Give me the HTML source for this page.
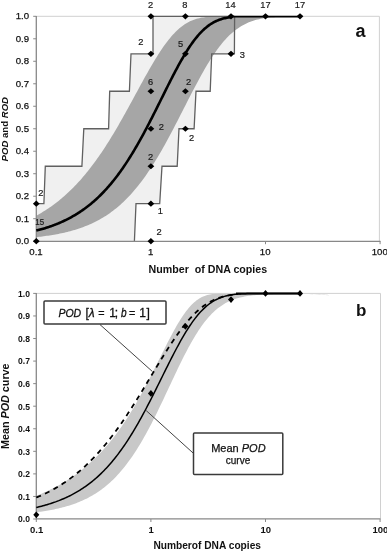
<!DOCTYPE html>
<html><head><meta charset="utf-8"><style>
html,body{margin:0;padding:0;background:#fff;width:387px;height:553px;overflow:hidden}
svg{display:block;filter:grayscale(1)}
text{font-family:"Liberation Sans",sans-serif}
</style></head><body>
<svg width="387" height="553" viewBox="0 0 387 553">
<rect width="387" height="553" fill="#fff"/>
<!-- plot a -->
<polygon points="36.30,241.20 36.30,203.72 43.90,203.72 45.30,166.23 81.90,166.23 83.80,128.75 108.60,128.75 109.70,91.27 129.40,91.27 131.00,53.78 153.00,53.78 153.00,16.30 234.60,16.30 234.40,53.78 211.70,53.78 210.20,91.27 196.00,91.27 194.10,128.75 179.00,128.75 177.20,166.23 162.00,166.23 159.70,203.72 136.00,203.72 134.40,241.20" fill="#f0f0f0"/>
<polygon points="36.30,215.68 37.63,214.95 38.95,214.21 40.28,213.45 41.60,212.67 42.93,211.87 44.25,211.05 45.58,210.21 46.90,209.35 48.23,208.47 49.55,207.57 50.88,206.65 52.20,205.71 53.53,204.75 54.85,203.76 56.18,202.76 57.50,201.73 58.83,200.67 60.15,199.60 61.48,198.50 62.80,197.37 64.13,196.22 65.45,195.05 66.78,193.85 68.10,192.62 69.43,191.37 70.75,190.09 72.08,188.79 73.40,187.46 74.73,186.10 76.05,184.71 77.38,183.30 78.70,181.86 80.03,180.39 81.35,178.89 82.68,177.36 84.00,175.81 85.33,174.22 86.65,172.61 87.98,170.96 89.31,169.29 90.63,167.58 91.96,165.85 93.28,164.09 94.61,162.29 95.93,160.47 97.26,158.62 98.58,156.74 99.91,154.82 101.23,152.88 102.56,150.91 103.88,148.91 105.21,146.89 106.53,144.83 107.86,142.75 109.18,140.64 110.51,138.50 111.83,136.34 113.16,134.15 114.48,131.94 115.81,129.70 117.13,127.44 118.46,125.16 119.78,122.86 121.11,120.54 122.43,118.20 123.76,115.84 125.08,113.47 126.41,111.08 127.73,108.68 129.06,106.26 130.38,103.84 131.71,101.41 133.03,98.98 134.36,96.54 135.68,94.09 137.01,91.65 138.33,89.21 139.66,86.77 140.98,84.35 142.31,81.93 143.64,79.52 144.96,77.12 146.29,74.75 147.61,72.39 148.94,70.06 150.26,67.75 151.59,65.46 152.91,63.21 154.24,60.99 155.56,58.81 156.89,56.67 158.21,54.56 159.54,52.50 160.86,50.49 162.19,48.53 163.51,46.62 164.84,44.76 166.16,42.95 167.49,41.21 168.81,39.52 170.14,37.90 171.46,36.33 172.79,34.84 174.11,33.40 175.44,32.04 176.76,30.73 178.09,29.50 179.41,28.33 180.74,27.23 182.06,26.20 183.39,25.23 184.71,24.32 186.04,23.48 187.36,22.70 188.69,21.99 190.01,21.33 191.34,20.72 192.66,20.17 193.99,19.67 195.32,19.22 196.64,18.82 197.97,18.46 199.29,18.14 200.62,17.86 201.94,17.61 203.27,17.40 204.59,17.21 205.92,17.05 207.24,16.91 208.57,16.80 209.89,16.70 211.22,16.62 212.54,16.55 213.87,16.50 215.19,16.45 216.52,16.42 217.84,16.39 219.17,16.37 220.49,16.35 221.82,16.34 223.14,16.33 224.47,16.32 225.79,16.31 227.12,16.31 228.44,16.31 229.77,16.30 231.09,16.30 232.42,16.30 233.74,16.30 235.07,16.30 236.39,16.30 237.72,16.30 239.04,16.30 240.37,16.30 241.69,16.30 243.02,16.30 244.34,16.30 245.67,16.30 246.99,16.30 248.32,16.30 249.65,16.30 250.97,16.30 252.30,16.30 253.62,16.30 254.95,16.30 256.27,16.30 257.60,16.30 258.92,16.30 260.25,16.30 261.57,16.30 262.90,16.30 264.22,16.30 265.55,16.30 266.87,16.30 268.20,16.30 269.52,16.30 270.85,16.30 272.17,16.30 273.50,16.30 274.82,16.30 276.15,16.30 277.47,16.30 278.80,16.30 280.12,16.30 281.45,16.30 282.77,16.30 284.10,16.30 285.42,16.30 286.75,16.30 288.07,16.30 289.40,16.30 290.72,16.30 292.05,16.30 293.37,16.30 294.70,16.30 296.02,16.30 297.35,16.30 298.67,16.30 300.00,16.30 330.00,16.30 328.52,16.30 327.05,16.30 325.57,16.30 324.10,16.30 322.62,16.31 321.14,16.31 319.67,16.31 318.19,16.31 316.72,16.31 315.24,16.31 313.77,16.31 312.29,16.32 310.81,16.32 309.34,16.32 307.86,16.33 306.39,16.33 304.91,16.34 303.43,16.34 301.96,16.35 300.48,16.36 299.01,16.37 297.53,16.38 296.05,16.39 294.58,16.41 293.10,16.43 291.63,16.45 290.15,16.47 288.68,16.50 287.20,16.53 285.72,16.57 284.25,16.61 282.77,16.66 281.30,16.71 279.82,16.78 278.34,16.85 276.87,16.93 275.39,17.02 273.92,17.13 272.44,17.24 270.96,17.37 269.49,17.52 268.01,17.69 266.54,17.87 265.06,18.08 263.59,18.31 262.11,18.56 260.63,18.84 259.16,19.15 257.68,19.49 256.21,19.87 254.73,20.28 253.25,20.73 251.78,21.22 250.30,21.76 248.83,22.34 247.35,22.96 245.87,23.64 244.40,24.38 242.92,25.17 241.45,26.01 239.97,26.92 238.50,27.89 237.02,28.92 235.54,30.02 234.07,31.19 232.59,32.43 231.12,33.73 229.64,35.11 228.16,36.56 226.69,38.08 225.21,39.68 223.74,41.35 222.26,43.09 220.78,44.91 219.31,46.80 217.83,48.76 216.36,50.78 214.88,52.88 213.41,55.05 211.93,57.28 210.45,59.57 208.98,61.93 207.50,64.34 206.03,66.81 204.55,69.34 203.07,71.91 201.60,74.53 200.12,77.19 198.65,79.89 197.17,82.63 195.69,85.40 194.22,88.20 192.74,91.03 191.27,93.87 189.79,96.74 188.32,99.62 186.84,102.51 185.36,105.41 183.89,108.31 182.41,111.21 180.94,114.11 179.46,117.00 177.98,119.89 176.51,122.76 175.03,125.61 173.56,128.44 172.08,131.25 170.61,134.04 169.13,136.80 167.65,139.54 166.18,142.24 164.70,144.91 163.23,147.54 161.75,150.13 160.27,152.69 158.80,155.21 157.32,157.68 155.85,160.12 154.37,162.51 152.89,164.85 151.42,167.15 149.94,169.40 148.47,171.61 146.99,173.77 145.52,175.88 144.04,177.95 142.56,179.96 141.09,181.93 139.61,183.85 138.14,185.73 136.66,187.55 135.18,189.33 133.71,191.07 132.23,192.75 130.76,194.39 129.28,195.99 127.80,197.54 126.33,199.04 124.85,200.50 123.38,201.92 121.90,203.30 120.43,204.64 118.95,205.93 117.47,207.19 116.00,208.40 114.52,209.58 113.05,210.72 111.57,211.82 110.09,212.89 108.62,213.92 107.14,214.92 105.67,215.88 104.19,216.82 102.71,217.72 101.24,218.59 99.76,219.43 98.29,220.24 96.81,221.03 95.34,221.78 93.86,222.51 92.38,223.21 90.91,223.89 89.43,224.55 87.96,225.18 86.48,225.79 85.00,226.37 83.53,226.94 82.05,227.48 80.58,228.01 79.10,228.51 77.62,229.00 76.15,229.46 74.67,229.92 73.20,230.35 71.72,230.77 70.25,231.17 68.77,231.55 67.29,231.93 65.82,232.28 64.34,232.63 62.87,232.96 61.39,233.28 59.91,233.58 58.44,233.88 56.96,234.16 55.49,234.43 54.01,234.69 52.53,234.95 51.06,235.19 49.58,235.42 48.11,235.64 46.63,235.86 45.16,236.06 43.68,236.26 42.20,236.45 40.73,236.64 39.25,236.81 37.78,236.98 36.30,237.14" fill="#a6a6a6"/>
<polyline points="36.3,16.3 379.4,16.3 379.4,241.2" fill="none" stroke="#d0d0d0" stroke-width="1"/>
<polyline points="36.30,203.72 43.90,203.72 45.30,166.23 81.90,166.23 83.80,128.75 108.60,128.75 109.70,91.27 129.40,91.27 131.00,53.78 153.00,53.78 153.00,16.30" fill="none" stroke="#606060" stroke-width="1.3"/>
<polyline points="234.60,16.30 234.40,53.78 211.70,53.78 210.20,91.27 196.00,91.27 194.10,128.75 179.00,128.75 177.20,166.23 162.00,166.23 159.70,203.72 136.00,203.72 134.40,241.20" fill="none" stroke="#606060" stroke-width="1.3"/>
<line x1="153.0" y1="16.3" x2="234.6" y2="16.3" stroke="#606060" stroke-width="1.3"/>
<g stroke="#888" stroke-width="1"><line x1="33.2" x2="36.3" y1="241.20" y2="241.20"/><line x1="33.2" x2="36.3" y1="218.71" y2="218.71"/><line x1="33.2" x2="36.3" y1="196.22" y2="196.22"/><line x1="33.2" x2="36.3" y1="173.73" y2="173.73"/><line x1="33.2" x2="36.3" y1="151.24" y2="151.24"/><line x1="33.2" x2="36.3" y1="128.75" y2="128.75"/><line x1="33.2" x2="36.3" y1="106.26" y2="106.26"/><line x1="33.2" x2="36.3" y1="83.77" y2="83.77"/><line x1="33.2" x2="36.3" y1="61.28" y2="61.28"/><line x1="33.2" x2="36.3" y1="38.79" y2="38.79"/><line x1="33.2" x2="36.3" y1="16.30" y2="16.30"/><line x1="36.30" x2="36.30" y1="241.2" y2="244.2"/><line x1="150.90" x2="150.90" y1="241.2" y2="244.2"/><line x1="265.50" x2="265.50" y1="241.2" y2="244.2"/><line x1="380.10" x2="380.10" y1="241.2" y2="244.2"/></g>
<line x1="36.3" y1="16" x2="36.3" y2="241.7" stroke="#888" stroke-width="1.3"/>
<line x1="36" y1="241.4" x2="380.5" y2="241.4" stroke="#888" stroke-width="1.3"/>
<polyline points="36.30,230.61 37.28,230.36 38.26,230.10 39.24,229.84 40.21,229.57 41.19,229.30 42.17,229.02 43.15,228.73 44.13,228.44 45.11,228.14 46.08,227.83 47.06,227.52 48.04,227.20 49.02,226.88 50.00,226.54 50.98,226.20 51.95,225.85 52.93,225.49 53.91,225.13 54.89,224.76 55.87,224.38 56.85,223.99 57.82,223.59 58.80,223.18 59.78,222.77 60.76,222.34 61.74,221.91 62.72,221.47 63.69,221.01 64.67,220.55 65.65,220.08 66.63,219.60 67.61,219.11 68.59,218.60 69.57,218.09 70.54,217.56 71.52,217.03 72.50,216.48 73.48,215.92 74.46,215.35 75.44,214.77 76.41,214.17 77.39,213.57 78.37,212.95 79.35,212.32 80.33,211.67 81.31,211.01 82.28,210.34 83.26,209.66 84.24,208.96 85.22,208.24 86.20,207.52 87.18,206.77 88.15,206.02 89.13,205.25 90.11,204.46 91.09,203.66 92.07,202.84 93.05,202.00 94.03,201.15 95.00,200.29 95.98,199.41 96.96,198.51 97.94,197.59 98.92,196.66 99.90,195.71 100.87,194.74 101.85,193.75 102.83,192.75 103.81,191.73 104.79,190.69 105.77,189.63 106.74,188.55 107.72,187.45 108.70,186.34 109.68,185.20 110.66,184.05 111.64,182.88 112.61,181.68 113.59,180.47 114.57,179.24 115.55,177.99 116.53,176.71 117.51,175.42 118.48,174.11 119.46,172.77 120.44,171.42 121.42,170.05 122.40,168.65 123.38,167.24 124.36,165.80 125.33,164.35 126.31,162.87 127.29,161.37 128.27,159.86 129.25,158.32 130.23,156.77 131.20,155.19 132.18,153.59 133.16,151.98 134.14,150.34 135.12,148.69 136.10,147.02 137.07,145.33 138.05,143.62 139.03,141.89 140.01,140.15 140.99,138.39 141.97,136.61 142.94,134.82 143.92,133.01 144.90,131.18 145.88,129.35 146.86,127.49 147.84,125.63 148.82,123.75 149.79,121.86 150.77,119.95 151.75,118.04 152.73,116.12 153.71,114.19 154.69,112.25 155.66,110.30 156.64,108.34 157.62,106.39 158.60,104.42 159.58,102.46 160.56,100.49 161.53,98.52 162.51,96.55 163.49,94.58 164.47,92.61 165.45,90.64 166.43,88.68 167.40,86.73 168.38,84.78 169.36,82.85 170.34,80.92 171.32,79.00 172.30,77.09 173.27,75.20 174.25,73.32 175.23,71.46 176.21,69.61 177.19,67.79 178.17,65.98 179.15,64.20 180.12,62.44 181.10,60.70 182.08,58.99 183.06,57.30 184.04,55.64 185.02,54.01 185.99,52.41 186.97,50.84 187.95,49.30 188.93,47.80 189.91,46.33 190.89,44.89 191.86,43.50 192.84,42.13 193.82,40.81 194.80,39.52 195.78,38.27 196.76,37.06 197.73,35.89 198.71,34.75 199.69,33.66 200.67,32.61 201.65,31.60 202.63,30.62 203.61,29.69 204.58,28.80 205.56,27.94 206.54,27.13 207.52,26.35 208.50,25.62 209.48,24.92 210.45,24.26 211.43,23.63 212.41,23.04 213.39,22.48 214.37,21.96 215.35,21.47 216.32,21.01 217.30,20.58 218.28,20.19 219.26,19.82 220.24,19.47 221.22,19.16 222.19,18.87 223.17,18.60 224.15,18.35 225.13,18.13 226.11,17.92 227.09,17.74 228.06,17.57 229.04,17.42 230.02,17.28 231.00,17.15" fill="none" stroke="#000" stroke-width="2.6"/>
<line x1="229" y1="16.6" x2="300.5" y2="16.6" stroke="#000" stroke-width="1.7"/>
<g fill="#000"><path d="M36.30 238.10L39.70 241.20L36.30 244.30L32.90 241.20Z"/><path d="M36.30 200.62L39.70 203.72L36.30 206.82L32.90 203.72Z"/><path d="M150.90 238.10L154.30 241.20L150.90 244.30L147.50 241.20Z"/><path d="M150.90 200.62L154.30 203.72L150.90 206.82L147.50 203.72Z"/><path d="M150.90 163.13L154.30 166.23L150.90 169.33L147.50 166.23Z"/><path d="M150.90 125.65L154.30 128.75L150.90 131.85L147.50 128.75Z"/><path d="M150.90 88.17L154.30 91.27L150.90 94.37L147.50 91.27Z"/><path d="M150.90 50.68L154.30 53.78L150.90 56.88L147.50 53.78Z"/><path d="M150.90 13.20L154.30 16.30L150.90 19.40L147.50 16.30Z"/><path d="M185.40 125.65L188.80 128.75L185.40 131.85L182.00 128.75Z"/><path d="M185.40 88.17L188.80 91.27L185.40 94.37L182.00 91.27Z"/><path d="M185.40 50.68L188.80 53.78L185.40 56.88L182.00 53.78Z"/><path d="M185.40 13.20L188.80 16.30L185.40 19.40L182.00 16.30Z"/><path d="M231.00 50.68L234.40 53.78L231.00 56.88L227.60 53.78Z"/><path d="M231.00 13.20L234.40 16.30L231.00 19.40L227.60 16.30Z"/><path d="M265.50 13.20L268.90 16.30L265.50 19.40L262.10 16.30Z"/><path d="M300.00 13.20L303.40 16.30L300.00 19.40L296.60 16.30Z"/></g>
<g font-size="9.3" fill="#1a1a1a" stroke="#1a1a1a" stroke-width="0.2"><text x="35.3" y="225.0" text-anchor="start" textLength="8.8" lengthAdjust="spacingAndGlyphs">15</text><text x="38.2" y="196.3" text-anchor="start">2</text><text x="156.4" y="235.0" text-anchor="start">2</text><text x="157.8" y="214.3" text-anchor="start">1</text><text x="150.5" y="160.0" text-anchor="middle">2</text><text x="158.8" y="130.3" text-anchor="start">2</text><text x="150.7" y="84.8" text-anchor="middle">6</text><text x="140.8" y="45.4" text-anchor="middle">2</text><text x="150.6" y="8.1" text-anchor="middle">2</text><text x="184.8" y="8.1" text-anchor="middle">8</text><text x="180.6" y="47.2" text-anchor="middle">5</text><text x="188.7" y="84.7" text-anchor="middle">2</text><text x="191.7" y="140.7" text-anchor="middle">2</text><text x="242.4" y="58.0" text-anchor="middle">3</text><text x="230.5" y="8.1" text-anchor="middle">14</text><text x="265.4" y="8.1" text-anchor="middle">17</text><text x="300" y="8.1" text-anchor="middle">17</text></g><g font-size="9.6" fill="#111" stroke="#111" stroke-width="0.25"><text x="29.0" y="244.10" text-anchor="end">0.0</text><text x="29.0" y="221.61" text-anchor="end">0.1</text><text x="29.0" y="199.12" text-anchor="end">0.2</text><text x="29.0" y="176.63" text-anchor="end">0.3</text><text x="29.0" y="154.14" text-anchor="end">0.4</text><text x="29.0" y="131.65" text-anchor="end">0.5</text><text x="29.0" y="109.16" text-anchor="end">0.6</text><text x="29.0" y="86.67" text-anchor="end">0.7</text><text x="29.0" y="64.18" text-anchor="end">0.8</text><text x="29.0" y="41.69" text-anchor="end">0.9</text><text x="29.0" y="19.20" text-anchor="end">1.0</text><text x="36.00" y="255.0" text-anchor="middle">0.1</text><text x="150.60" y="255.0" text-anchor="middle">1</text><text x="265.20" y="255.0" text-anchor="middle">10</text><text x="379.80" y="255.0" text-anchor="middle">100</text></g>
<text x="148.6" y="272.6" font-size="11" font-weight="bold" fill="#111" textLength="118.6" lengthAdjust="spacingAndGlyphs">Number &#160;of DNA copies</text>
<text transform="translate(8.3,129.2) rotate(-90)" text-anchor="middle" font-size="9.6" font-weight="bold" fill="#111" textLength="64.5" lengthAdjust="spacingAndGlyphs"><tspan font-style="italic">POD</tspan> and <tspan font-style="italic">ROD</tspan></text>
<text x="355.5" y="36.7" font-size="18" font-weight="bold" fill="#111">a</text>

<!-- plot b -->
<polygon points="36.30,495.87 37.63,495.33 38.95,494.78 40.28,494.22 41.60,493.65 42.93,493.07 44.25,492.48 45.58,491.88 46.90,491.26 48.23,490.64 49.55,490.00 50.88,489.35 52.20,488.68 53.53,488.00 54.85,487.31 56.18,486.61 57.50,485.89 58.83,485.16 60.15,484.41 61.48,483.65 62.80,482.87 64.13,482.08 65.45,481.27 66.78,480.44 68.10,479.60 69.43,478.74 70.75,477.86 72.08,476.97 73.40,476.06 74.73,475.13 76.05,474.18 77.38,473.21 78.70,472.22 80.03,471.21 81.35,470.18 82.68,469.13 84.00,468.06 85.33,466.96 86.65,465.84 87.98,464.70 89.31,463.54 90.63,462.35 91.96,461.14 93.28,459.90 94.61,458.63 95.93,457.34 97.26,456.03 98.58,454.68 99.91,453.31 101.23,451.91 102.56,450.48 103.88,449.02 105.21,447.53 106.53,446.01 107.86,444.47 109.18,442.88 110.51,441.27 111.83,439.63 113.16,437.95 114.48,436.24 115.81,434.50 117.13,432.72 118.46,430.90 119.78,429.06 121.11,427.18 122.43,425.26 123.76,423.31 125.08,421.32 126.41,419.29 127.73,417.23 129.06,415.14 130.38,413.01 131.71,410.84 133.03,408.64 134.36,406.40 135.68,404.13 137.01,401.83 138.33,399.49 139.66,397.12 140.98,394.72 142.31,392.29 143.64,389.83 144.96,387.34 146.29,384.82 147.61,382.28 148.94,379.71 150.26,377.13 151.59,374.52 152.91,371.90 154.24,369.26 155.56,366.61 156.89,363.95 158.21,361.29 159.54,358.63 160.86,355.96 162.19,353.30 163.51,350.65 164.84,348.01 166.16,345.39 167.49,342.79 168.81,340.22 170.14,337.68 171.46,335.18 172.79,332.71 174.11,330.29 175.44,327.92 176.76,325.61 178.09,323.36 179.41,321.17 180.74,319.05 182.06,317.01 183.39,315.05 184.71,313.17 186.04,311.37 187.36,309.66 188.69,308.05 190.01,306.53 191.34,305.10 192.66,303.77 193.99,302.54 195.32,301.40 196.64,300.36 197.97,299.41 199.29,298.55 200.62,297.78 201.94,297.09 203.27,296.49 204.59,295.96 205.92,295.49 207.24,295.10 208.57,294.76 209.89,294.48 211.22,294.25 212.54,294.05 213.87,293.90 215.19,293.77 216.52,293.67 217.84,293.60 219.17,293.54 220.49,293.50 221.82,293.47 223.14,293.45 224.47,293.43 225.79,293.42 227.12,293.41 228.44,293.41 229.77,293.40 231.09,293.40 232.42,293.40 233.74,293.40 235.07,293.40 236.39,293.40 237.72,293.40 239.04,293.40 240.37,293.40 241.69,293.40 243.02,293.40 244.34,293.40 245.67,293.40 246.99,293.40 248.32,293.40 249.65,293.40 250.97,293.40 252.30,293.40 253.62,293.40 254.95,293.40 256.27,293.40 257.60,293.40 258.92,293.40 260.25,293.40 261.57,293.40 262.90,293.40 264.22,293.40 265.55,293.40 266.87,293.40 268.20,293.40 269.52,293.40 270.85,293.40 272.17,293.40 273.50,293.40 274.82,293.40 276.15,293.40 277.47,293.40 278.80,293.40 280.12,293.40 281.45,293.40 282.77,293.40 284.10,293.40 285.42,293.40 286.75,293.40 288.07,293.40 289.40,293.40 290.72,293.40 292.05,293.40 293.37,293.40 294.70,293.40 296.02,293.40 297.35,293.40 298.67,293.40 300.00,293.40 330.00,295.15 328.52,294.99 327.05,294.85 325.57,294.72 324.10,294.61 322.62,294.52 321.14,294.43 319.67,294.35 318.19,294.29 316.72,294.23 315.24,294.17 313.77,294.13 312.29,294.09 310.81,294.05 309.34,294.02 307.86,293.99 306.39,293.97 304.91,293.95 303.43,293.93 301.96,293.92 300.48,293.90 299.01,293.89 297.53,293.89 296.05,293.88 294.58,293.88 293.10,293.88 291.63,293.88 290.15,293.89 288.68,293.89 287.20,293.90 285.72,293.91 284.25,293.93 282.77,293.94 281.30,293.96 279.82,293.98 278.34,294.01 276.87,294.03 275.39,294.07 273.92,294.10 272.44,294.14 270.96,294.19 269.49,294.23 268.01,294.29 266.54,294.35 265.06,294.42 263.59,294.49 262.11,294.58 260.63,294.67 259.16,294.77 257.68,294.88 256.21,295.01 254.73,295.15 253.25,295.30 251.78,295.46 250.30,295.65 248.83,295.85 247.35,296.07 245.87,296.32 244.40,296.59 242.92,296.88 241.45,297.21 239.97,297.56 238.50,297.95 237.02,298.37 235.54,298.83 234.07,299.33 232.59,299.87 231.12,300.46 229.64,301.10 228.16,301.79 226.69,302.54 225.21,303.34 223.74,304.21 222.26,305.13 220.78,306.13 219.31,307.19 217.83,308.33 216.36,309.53 214.88,310.82 213.41,312.18 211.93,313.62 210.45,315.15 208.98,316.76 207.50,318.45 206.03,320.22 204.55,322.08 203.07,324.03 201.60,326.05 200.12,328.17 198.65,330.36 197.17,332.64 195.69,334.99 194.22,337.43 192.74,339.93 191.27,342.51 189.79,345.16 188.32,347.87 186.84,350.64 185.36,353.47 183.89,356.36 182.41,359.29 180.94,362.26 179.46,365.28 177.98,368.33 176.51,371.41 175.03,374.51 173.56,377.63 172.08,380.77 170.61,383.92 169.13,387.07 167.65,390.22 166.18,393.37 164.70,396.50 163.23,399.63 161.75,402.73 160.27,405.82 158.80,408.87 157.32,411.90 155.85,414.90 154.37,417.86 152.89,420.78 151.42,423.66 149.94,426.49 148.47,429.28 146.99,432.02 145.52,434.71 144.04,437.35 142.56,439.93 141.09,442.46 139.61,444.93 138.14,447.34 136.66,449.70 135.18,452.00 133.71,454.24 132.23,456.42 130.76,458.55 129.28,460.61 127.80,462.62 126.33,464.57 124.85,466.46 123.38,468.30 121.90,470.08 120.43,471.81 118.95,473.48 117.47,475.09 116.00,476.66 114.52,478.17 113.05,479.64 111.57,481.05 110.09,482.42 108.62,483.73 107.14,485.01 105.67,486.23 104.19,487.42 102.71,488.56 101.24,489.66 99.76,490.72 98.29,491.74 96.81,492.72 95.34,493.67 93.86,494.58 92.38,495.46 90.91,496.30 89.43,497.11 87.96,497.89 86.48,498.64 85.00,499.37 83.53,500.06 82.05,500.73 80.58,501.37 79.10,501.98 77.62,502.57 76.15,503.14 74.67,503.69 73.20,504.21 71.72,504.72 70.25,505.20 68.77,505.66 67.29,506.11 65.82,506.54 64.34,506.95 62.87,507.34 61.39,507.72 59.91,508.09 58.44,508.43 56.96,508.77 55.49,509.09 54.01,509.40 52.53,509.69 51.06,509.98 49.58,510.25 48.11,510.51 46.63,510.76 45.16,511.00 43.68,511.24 42.20,511.46 40.73,511.67 39.25,511.87 37.78,512.07 36.30,512.26" fill="#c8c8c8"/>
<polyline points="36.3,293.4 380.5,293.4 380.5,519" fill="none" stroke="#d0d0d0" stroke-width="1"/>
<g stroke="#888" stroke-width="1"><line x1="33.2" x2="36.3" y1="519.00" y2="519.00"/><line x1="33.2" x2="36.3" y1="496.44" y2="496.44"/><line x1="33.2" x2="36.3" y1="473.88" y2="473.88"/><line x1="33.2" x2="36.3" y1="451.32" y2="451.32"/><line x1="33.2" x2="36.3" y1="428.76" y2="428.76"/><line x1="33.2" x2="36.3" y1="406.20" y2="406.20"/><line x1="33.2" x2="36.3" y1="383.64" y2="383.64"/><line x1="33.2" x2="36.3" y1="361.08" y2="361.08"/><line x1="33.2" x2="36.3" y1="338.52" y2="338.52"/><line x1="33.2" x2="36.3" y1="315.96" y2="315.96"/><line x1="33.2" x2="36.3" y1="293.40" y2="293.40"/><line x1="36.30" x2="36.30" y1="519.0" y2="522.0"/><line x1="150.90" x2="150.90" y1="519.0" y2="522.0"/><line x1="265.50" x2="265.50" y1="519.0" y2="522.0"/><line x1="380.10" x2="380.10" y1="519.0" y2="522.0"/></g>
<line x1="36.3" y1="293" x2="36.3" y2="519.5" stroke="#888" stroke-width="1.3"/>
<line x1="36" y1="518.8" x2="380.5" y2="518.8" stroke="#888" stroke-width="1.3"/>
<polyline points="36.30,497.53 37.31,497.11 38.33,496.68 39.34,496.25 40.35,495.81 41.37,495.35 42.38,494.90 43.39,494.43 44.41,493.95 45.42,493.47 46.44,492.97 47.45,492.47 48.46,491.96 49.48,491.44 50.49,490.91 51.50,490.37 52.52,489.82 53.53,489.26 54.54,488.69 55.56,488.11 56.57,487.52 57.58,486.92 58.60,486.31 59.61,485.69 60.63,485.06 61.64,484.42 62.65,483.77 63.67,483.10 64.68,482.43 65.69,481.74 66.71,481.04 67.72,480.33 68.73,479.61 69.75,478.88 70.76,478.13 71.77,477.37 72.79,476.60 73.80,475.82 74.82,475.03 75.83,474.22 76.84,473.40 77.86,472.56 78.87,471.71 79.88,470.85 80.90,469.98 81.91,469.09 82.92,468.19 83.94,467.27 84.95,466.35 85.96,465.40 86.98,464.45 87.99,463.47 89.01,462.49 90.02,461.49 91.03,460.47 92.05,459.44 93.06,458.40 94.07,457.34 95.09,456.27 96.10,455.18 97.11,454.08 98.13,452.96 99.14,451.83 100.15,450.68 101.17,449.52 102.18,448.34 103.20,447.14 104.21,445.94 105.22,444.71 106.24,443.48 107.25,442.22 108.26,440.95 109.28,439.67 110.29,438.37 111.30,437.06 112.32,435.73 113.33,434.39 114.34,433.03 115.36,431.66 116.37,430.27 117.39,428.87 118.40,427.46 119.41,426.03 120.43,424.59 121.44,423.14 122.45,421.67 123.47,420.19 124.48,418.69 125.49,417.19 126.51,415.67 127.52,414.13 128.53,412.59 129.55,411.04 130.56,409.47 131.58,407.90 132.59,406.31 133.60,404.71 134.62,403.11 135.63,401.49 136.64,399.87 137.66,398.24 138.67,396.60 139.68,394.95 140.70,393.29 141.71,391.63 142.72,389.97 143.74,388.30 144.75,386.62 145.77,384.94 146.78,383.26 147.79,381.57 148.81,379.88 149.82,378.20 150.83,376.51 151.85,374.81 152.86,373.13 153.87,371.44 154.89,369.75 155.90,368.07 156.91,366.39 157.93,364.71 158.94,363.04 159.96,361.38 160.97,359.72 161.98,358.07 163.00,356.43 164.01,354.80 165.02,353.18 166.04,351.57 167.05,349.97 168.06,348.38 169.08,346.81 170.09,345.25 171.10,343.70 172.12,342.17 173.13,340.66 174.15,339.16 175.16,337.69 176.17,336.23 177.19,334.79 178.20,333.37 179.21,331.97 180.23,330.59 181.24,329.24 182.25,327.91 183.27,326.60 184.28,325.32 185.29,324.06 186.31,322.83 187.32,321.62 188.34,320.44 189.35,319.28 190.36,318.15 191.38,317.05 192.39,315.98 193.40,314.94 194.42,313.92 195.43,312.93 196.44,311.97 197.46,311.04 198.47,310.14 199.48,309.27 200.50,308.43 201.51,307.61 202.53,306.83 203.54,306.07 204.55,305.34 205.57,304.64 206.58,303.97 207.59,303.32 208.61,302.70 209.62,302.11 210.63,301.55 211.65,301.01 212.66,300.50 213.67,300.01 214.69,299.55 215.70,299.11 216.72,298.69 217.73,298.30 218.74,297.93 219.76,297.58 220.77,297.25 221.78,296.94 222.80,296.65 223.81,296.38 224.82,296.13 225.84,295.89 226.85,295.67 227.86,295.46 228.88,295.27 229.89,295.10 230.91,294.93 231.92,294.79 232.93,294.65 233.95,294.52 234.96,294.40 235.97,294.30 236.99,294.20 238.00,294.11" fill="none" stroke="#000" stroke-width="1.8" stroke-dasharray="5 4.5"/>
<polyline points="36.30,507.47 37.63,507.16 38.95,506.84 40.28,506.51 41.60,506.16 42.93,505.81 44.25,505.45 45.58,505.07 46.90,504.69 48.23,504.29 49.55,503.88 50.88,503.45 52.20,503.02 53.53,502.57 54.85,502.10 56.18,501.63 57.50,501.13 58.83,500.63 60.15,500.10 61.48,499.56 62.80,499.01 64.13,498.44 65.45,497.85 66.78,497.24 68.10,496.61 69.43,495.97 70.75,495.30 72.08,494.62 73.40,493.91 74.73,493.19 76.05,492.44 77.38,491.67 78.70,490.88 80.03,490.06 81.35,489.22 82.68,488.36 84.00,487.47 85.33,486.55 86.65,485.61 87.98,484.65 89.31,483.65 90.63,482.63 91.96,481.57 93.28,480.49 94.61,479.38 95.93,478.24 97.26,477.07 98.58,475.86 99.91,474.62 101.23,473.35 102.56,472.05 103.88,470.71 105.21,469.34 106.53,467.93 107.86,466.49 109.18,465.01 110.51,463.49 111.83,461.94 113.16,460.35 114.48,458.72 115.81,457.05 117.13,455.35 118.46,453.60 119.78,451.82 121.11,450.00 122.43,448.14 123.76,446.24 125.08,444.30 126.41,442.32 127.73,440.30 129.06,438.24 130.38,436.15 131.71,434.02 133.03,431.85 134.36,429.64 135.68,427.39 137.01,425.11 138.33,422.80 139.66,420.45 140.98,418.07 142.31,415.65 143.64,413.21 144.96,410.73 146.29,408.23 147.61,405.70 148.94,403.15 150.26,400.57 151.59,397.98 152.91,395.36 154.24,392.73 155.56,390.08 156.89,387.42 158.21,384.76 159.54,382.08 160.86,379.40 162.19,376.72 163.51,374.04 164.84,371.36 166.16,368.70 167.49,366.04 168.81,363.39 170.14,360.77 171.46,358.16 172.79,355.57 174.11,353.02 175.44,350.49 176.76,347.99 178.09,345.53 179.41,343.11 180.74,340.74 182.06,338.40 183.39,336.12 184.71,333.89 186.04,331.71 187.36,329.58 188.69,327.52 190.01,325.51 191.34,323.57 192.66,321.69 193.99,319.88 195.32,318.13 196.64,316.45 197.97,314.84 199.29,313.30 200.62,311.84 201.94,310.44 203.27,309.11 204.59,307.85 205.92,306.65 207.24,305.53 208.57,304.47 209.89,303.48 211.22,302.56 212.54,301.69 213.87,300.89 215.19,300.14 216.52,299.46 217.84,298.82 219.17,298.24 220.49,297.70 221.82,297.22 223.14,296.77 224.47,296.37 225.79,296.01 227.12,295.68 228.44,295.39 229.77,295.13 231.09,294.90 232.42,294.69 233.74,294.51 235.07,294.35 236.39,294.21 237.72,294.09 239.04,293.98 240.37,293.89 241.69,293.81 243.02,293.74 244.34,293.68 245.67,293.63 246.99,293.59 248.32,293.56 249.65,293.53 250.97,293.50 252.30,293.48 253.62,293.47 254.95,293.45 256.27,293.44 257.60,293.43 258.92,293.43 260.25,293.42 261.57,293.42 262.90,293.41 264.22,293.41 265.55,293.41 266.87,293.41 268.20,293.40 269.52,293.40 270.85,293.40 272.17,293.40 273.50,293.40 274.82,293.40 276.15,293.40 277.47,293.40 278.80,293.40 280.12,293.40 281.45,293.40 282.77,293.40 284.10,293.40 285.42,293.40 286.75,293.40 288.07,293.40 289.40,293.40 290.72,293.40 292.05,293.40 293.37,293.40 294.70,293.40 296.02,293.40 297.35,293.40 298.67,293.40 300.00,293.40" fill="none" stroke="#000" stroke-width="1.5"/>
<line x1="236" y1="293.5" x2="300.5" y2="293.5" stroke="#000" stroke-width="2"/>
<g fill="#000"><path d="M36.30 511.40L39.30 514.80L36.30 518.20L33.30 514.80Z"/><path d="M150.90 390.00L153.90 393.40L150.90 396.80L147.90 393.40Z"/><path d="M185.40 322.90L188.40 326.30L185.40 329.70L182.40 326.30Z"/><path d="M231.00 296.20L234.00 299.60L231.00 303.00L228.00 299.60Z"/><path d="M265.50 290.00L268.50 293.40L265.50 296.80L262.50 293.40Z"/><path d="M300.00 290.00L303.00 293.40L300.00 296.80L297.00 293.40Z"/></g>
<line x1="99.9" y1="324.5" x2="152.4" y2="371.5" stroke="#444" stroke-width="1"/>
<line x1="146.2" y1="410.6" x2="193.3" y2="453.2" stroke="#444" stroke-width="1"/>
<rect x="44.0" y="300.9" width="122" height="23.2" rx="1" fill="#fff" stroke="#3a3a3a" stroke-width="1.5"/>
<text x="58.4" y="317" font-size="11.8" font-style="italic" fill="#111" stroke="#111" stroke-width="0.3" textLength="22.8" lengthAdjust="spacingAndGlyphs">POD</text>
<g font-family="Liberation Serif" font-size="12" fill="#111" stroke="#111" stroke-width="0.3"><text x="85.6" y="317">[</text><text x="88.7" y="317" font-style="italic">λ</text><text x="98.3" y="317" textLength="6.3" lengthAdjust="spacingAndGlyphs">=</text><text x="109.3" y="317">1</text><text x="114.8" y="317">;</text><text x="121.0" y="317" font-style="italic" textLength="5.6" lengthAdjust="spacingAndGlyphs">b</text><text x="128.9" y="317" textLength="6.3" lengthAdjust="spacingAndGlyphs">=</text><text x="139.2" y="317">1</text><text x="146.6" y="317">]</text></g>
<rect x="193.5" y="433.0" width="89.3" height="41.5" rx="1" fill="#fff" stroke="#3a3a3a" stroke-width="1.5"/>
<text x="238.4" y="452.1" font-size="11" text-anchor="middle" fill="#111" stroke="#111" stroke-width="0.25">Mean <tspan font-style="italic">POD</tspan></text>
<text x="238.0" y="464.2" font-size="11" text-anchor="middle" fill="#111" stroke="#111" stroke-width="0.25" textLength="24.4" lengthAdjust="spacingAndGlyphs">curve</text>
<g font-size="9.5" font-weight="bold" fill="#111"><text x="30.0" y="522.30" text-anchor="end" textLength="11.9" lengthAdjust="spacingAndGlyphs">0.0</text><text x="30.0" y="499.74" text-anchor="end" textLength="11.9" lengthAdjust="spacingAndGlyphs">0.1</text><text x="30.0" y="477.18" text-anchor="end" textLength="11.9" lengthAdjust="spacingAndGlyphs">0.2</text><text x="30.0" y="454.62" text-anchor="end" textLength="11.9" lengthAdjust="spacingAndGlyphs">0.3</text><text x="30.0" y="432.06" text-anchor="end" textLength="11.9" lengthAdjust="spacingAndGlyphs">0.4</text><text x="30.0" y="409.50" text-anchor="end" textLength="11.9" lengthAdjust="spacingAndGlyphs">0.5</text><text x="30.0" y="386.94" text-anchor="end" textLength="11.9" lengthAdjust="spacingAndGlyphs">0.6</text><text x="30.0" y="364.38" text-anchor="end" textLength="11.9" lengthAdjust="spacingAndGlyphs">0.7</text><text x="30.0" y="341.82" text-anchor="end" textLength="11.9" lengthAdjust="spacingAndGlyphs">0.8</text><text x="30.0" y="319.26" text-anchor="end" textLength="11.9" lengthAdjust="spacingAndGlyphs">0.9</text><text x="30.0" y="296.70" text-anchor="end" textLength="11.9" lengthAdjust="spacingAndGlyphs">1.0</text></g><g font-size="9.5" font-weight="bold" fill="#111" ><text x="36.60" y="532.6" text-anchor="middle">0.1</text><text x="151.20" y="532.6" text-anchor="middle">1</text><text x="265.80" y="532.6" text-anchor="middle">10</text><text x="380.40" y="532.6" text-anchor="middle">100</text></g>
<text x="153.4" y="549.4" font-size="10" font-weight="bold" fill="#111" textLength="107.6" lengthAdjust="spacingAndGlyphs">Numberof DNA copies</text>
<text transform="translate(9.4,406.2) rotate(-90)" text-anchor="middle" font-size="10.4" font-weight="bold" fill="#111" textLength="85.5" lengthAdjust="spacingAndGlyphs">Mean <tspan font-style="italic">POD</tspan> curve</text>
<text x="356" y="315.5" font-size="17" font-weight="bold" fill="#111">b</text>
</svg>
</body></html>
